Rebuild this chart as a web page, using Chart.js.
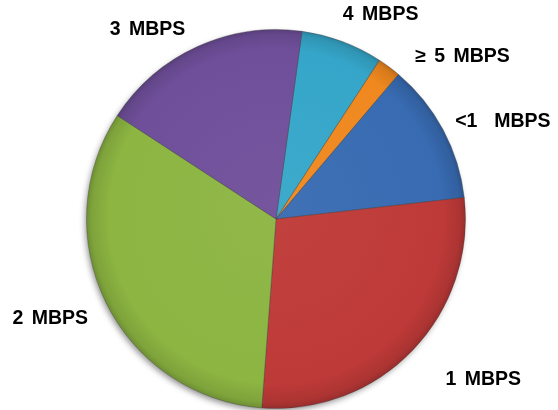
<!DOCTYPE html>
<html><head><meta charset="utf-8">
<script src="https://cdn.jsdelivr.net/npm/chart.js@4"></script>
<style>html,body{margin:0;padding:0;background:#fff}#wrap{width:558px;height:410px}</style>
</head><body><div id="wrap"><canvas id="c" width="558" height="410"></canvas></div>
<script>
const categories = ['4 MBPS', '\u2265 5 MBPS', '<1  MBPS', '1 MBPS', '2 MBPS', '3 MBPS'];
const values = [7, 2, 12, 28, 33, 18];
const colors = ['#35a6c9', '#ef881f', '#386bb2', '#be3a38', '#8cb542', '#6f4f9a'];
const labelNudge = [[18, -3], [33, 10], [0, 3], [29, 9], [-4, 2], [-26, 6]];

function shade(hex, f) {
  const n = parseInt(hex.slice(1), 16);
  let r = (n >> 16) & 255, g = (n >> 8) & 255, b = n & 255;
  if (f < 0) { r *= 1 + f; g *= 1 + f; b *= 1 + f; }
  else { r += (255 - r) * f; g += (255 - g) * f; b += (255 - b) * f; }
  return 'rgb(' + Math.round(r) + ',' + Math.round(g) + ',' + Math.round(b) + ')';
}

function fillFor(c) {
  const chart = c.chart, a = chart.chartArea, base = colors[c.dataIndex];
  if (!a) return base;
  const cx = (a.left + a.right) / 2, cy = (a.top + a.bottom) / 2;
  const r = Math.min(a.right - a.left, a.bottom - a.top) / 2;
  const g = chart.ctx.createRadialGradient(cx, cy - r * 0.1, 0, cx, cy, r);
  g.addColorStop(0, shade(base, 0.04));
  g.addColorStop(0.88, base);
  g.addColorStop(0.97, shade(base, -0.1));
  g.addColorStop(1, shade(base, -0.22));
  return g;
}

const shadowPlugin = {
  id: 'pieShadow',
  beforeDatasetsDraw(chart) {
    const el = chart.getDatasetMeta(0).data[0];
    if (!el) return;
    const ctx = chart.ctx;
    ctx.save();
    ctx.shadowColor = 'rgba(0,0,0,0.45)';
    ctx.shadowBlur = 6;
    ctx.shadowOffsetX = -2;
    ctx.shadowOffsetY = 3;
    ctx.beginPath();
    ctx.arc(el.x, el.y, el.outerRadius - 1, 0, Math.PI * 2);
    ctx.fillStyle = '#888';
    ctx.fill();
    ctx.restore();
  }
};

const labelPlugin = {
  id: 'outLabels',
  afterDatasetsDraw(chart) {
    const ctx = chart.ctx;
    const meta = chart.getDatasetMeta(0);
    ctx.save();
    ctx.font = 'bold 19.5px "Liberation Sans", Arial, sans-serif';
    if ('wordSpacing' in ctx) ctx.wordSpacing = '3px';
    ctx.fillStyle = '#000';
    ctx.textAlign = 'center';
    ctx.textBaseline = 'alphabetic';
    const cap = 14;
    meta.data.forEach((el, i) => {
      const p = el.getProps(['x', 'y', 'startAngle', 'endAngle', 'outerRadius'], true);
      const mid = (p.startAngle + p.endAngle) / 2;
      const ux = Math.cos(mid), uy = Math.sin(mid);
      const d = p.outerRadius + 20;
      const w = ctx.measureText(categories[i]).width;
      const bx = p.x + ux * d + ux * w / 2 + labelNudge[i][0];
      const by = p.y + uy * d + uy * cap / 2 + labelNudge[i][1];
      ctx.fillText(categories[i], bx, by + cap / 2);
    });
    ctx.restore();
  }
};

new Chart(document.getElementById('c'), {
  type: 'pie',
  data: {
    labels: categories,
    datasets: [{
      data: values,
      backgroundColor: fillFor,
      borderColor: 'rgba(60,60,60,0.35)',
      borderWidth: 1
    }]
  },
  options: {
    responsive: false,
    animation: false,
    rotation: 7.9,
    layout: { padding: { top: 29, bottom: 1, left: 0, right: 6 } },
    plugins: { legend: { display: false }, tooltip: { enabled: false } }
  },
  plugins: [shadowPlugin, labelPlugin]
});
</script>
</body></html>
